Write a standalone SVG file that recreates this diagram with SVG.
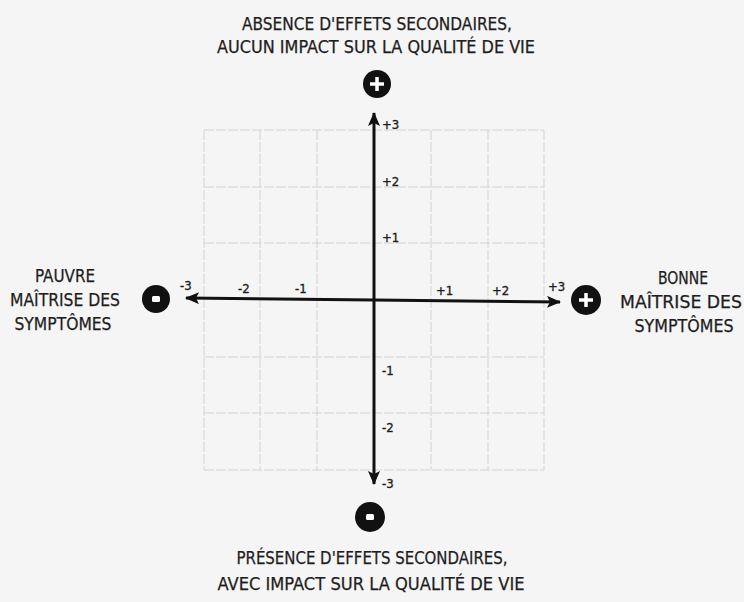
<svg xmlns="http://www.w3.org/2000/svg" width="744" height="602" viewBox="0 0 744 602">
<defs>
<style>
.lbl{font-family:"DejaVu Sans Condensed","DejaVu Sans",sans-serif;font-size:17.5px;fill:#1e1e1e;text-anchor:middle;stroke:#1e1e1e;stroke-width:0.25}
.tk{font-family:"DejaVu Sans Condensed","DejaVu Sans",sans-serif;font-size:13px;fill:#1e1e1e;stroke:#1e1e1e;stroke-width:0.35}
.grid line{stroke:#d2d2d2;stroke-width:1;stroke-dasharray:10 2}
.axis{stroke:#111;stroke-width:3;fill:none}
.sym{stroke:#fff;stroke-width:3.5;stroke-linecap:butt}
</style>
<marker id="ah" viewBox="0 0 14 12" refX="13" refY="6" markerWidth="14" markerHeight="12" markerUnits="userSpaceOnUse" orient="auto">
<path d="M0,0 L14,6 L0,12 L3,6 Z" fill="#111"/>
</marker>
</defs>
<rect width="744" height="602" fill="#f5f5f5"/>
<g class="grid" id="grid">
<line x1="204" y1="130" x2="204" y2="470"/>
<line x1="260" y1="130" x2="260" y2="470"/>
<line x1="317" y1="130" x2="317" y2="470"/>
<line x1="431" y1="130" x2="431" y2="470"/>
<line x1="488" y1="130" x2="488" y2="470"/>
<line x1="544" y1="130" x2="544" y2="470"/>
<line x1="204" y1="130" x2="544" y2="130"/>
<line x1="204" y1="187" x2="544" y2="187"/>
<line x1="204" y1="243" x2="544" y2="243"/>
<line x1="204" y1="357" x2="544" y2="357"/>
<line x1="204" y1="413" x2="544" y2="413"/>
<line x1="204" y1="470" x2="544" y2="470"/>
</g>
<g id="connectors">
<line class="axis" x1="374" y1="300" x2="374" y2="113" marker-end="url(#ah)"/>
<line class="axis" x1="374" y1="300" x2="374" y2="484" marker-end="url(#ah)"/>
<line class="axis" x1="374" y1="300" x2="186" y2="298" marker-end="url(#ah)"/>
<line class="axis" x1="374" y1="300" x2="560" y2="302" marker-end="url(#ah)"/>
</g>
<g id="ticks">
<text class="tk" x="382" y="129">+3</text>
<text class="tk" x="382" y="186">+2</text>
<text class="tk" x="382" y="242">+1</text>
<text class="tk" x="382" y="375">-1</text>
<text class="tk" x="382" y="432">-2</text>
<text class="tk" x="382" y="488">-3</text>
<text class="tk" x="180" y="290">-3</text>
<text class="tk" x="238" y="293">-2</text>
<text class="tk" x="295" y="293">-1</text>
<text class="tk" x="436" y="295">+1</text>
<text class="tk" x="492" y="295">+2</text>
<text class="tk" x="548" y="291">+3</text>
</g>
<g id="top-plus">
<circle cx="377" cy="84" r="14" fill="#111"/>
<line class="sym" x1="370" y1="84" x2="384" y2="84"/>
<line class="sym" x1="377" y1="77" x2="377" y2="91"/>
</g>
<g id="right-plus">
<circle cx="586" cy="300" r="15" fill="#111"/>
<line class="sym" x1="579" y1="300" x2="593" y2="300"/>
<line class="sym" x1="586" y1="293" x2="586" y2="307"/>
</g>
<g id="left-minus">
<circle cx="156" cy="299" r="14" fill="#111"/>
<rect x="152" y="296" width="8" height="6" rx="1.5" fill="#fff"/>
</g>
<g id="bottom-minus">
<circle cx="370" cy="517" r="15" fill="#111"/>
<rect x="366" y="514" width="8" height="6" rx="1.5" fill="#fff"/>
</g>
<g id="top-label">
<text class="lbl" x="377" y="30" textLength="270" lengthAdjust="spacingAndGlyphs">ABSENCE D'EFFETS SECONDAIRES,</text>
<text class="lbl" x="376" y="53" textLength="318" lengthAdjust="spacingAndGlyphs">AUCUN IMPACT SUR LA QUALITÉ DE VIE</text>
</g>
<g id="bottom-label">
<text class="lbl" x="372" y="564" textLength="271" lengthAdjust="spacingAndGlyphs">PRÉSENCE D'EFFETS SECONDAIRES,</text>
<text class="lbl" x="371" y="590" textLength="307" lengthAdjust="spacingAndGlyphs">AVEC IMPACT SUR LA QUALITÉ DE VIE</text>
</g>
<g id="left-label">
<text class="lbl" x="65" y="282" textLength="60" lengthAdjust="spacingAndGlyphs">PAUVRE</text>
<text class="lbl" x="65" y="306" textLength="110" lengthAdjust="spacingAndGlyphs">MAÎTRISE DES</text>
<text class="lbl" x="63" y="330" textLength="97" lengthAdjust="spacingAndGlyphs">SYMPTÔMES</text>
</g>
<g id="right-label">
<text class="lbl" x="683" y="284" textLength="50" lengthAdjust="spacingAndGlyphs">BONNE</text>
<text class="lbl" x="681" y="308" textLength="122" lengthAdjust="spacingAndGlyphs">MAÎTRISE DES</text>
<text class="lbl" x="684" y="332" textLength="99" lengthAdjust="spacingAndGlyphs">SYMPTÔMES</text>
</g>
</svg>
